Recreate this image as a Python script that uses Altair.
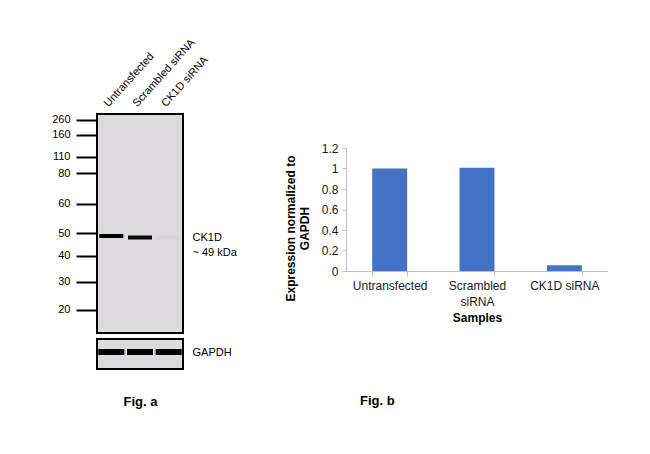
import altair as alt
import pandas as pd

# ---------------- Fig. a : western blot ----------------
lanes = ["Untransfected", "Scrambled siRNA", "CK1D siRNA"]
marker_kda = [260, 160, 110, 80, 60, 50, 40, 30, 20]
# migration distance of each marker from the top of the gel (relative units)
marker_migration = [5.5, 20.5, 42.5, 59, 89.5, 119, 141.5, 167.5, 195.5]
gel_length = 219
ck1d_migration = [122, 123.5, 123.5]
ck1d_intensity = [1.0, 0.95, 0.02]
ck1d_label_pos = [117]
ck1d_label = ["CK1D", "~ 49 kDa"]
gapdh_migration = [13, 13, 13]
gapdh_intensity = [1.0, 1.0, 1.0]
gapdh_length = 30
gapdh_label_pos = [13]

# ---------------- Fig. b : bar chart ----------------
samples = ["Untransfected", "Scrambled siRNA", "CK1D siRNA"]
expression = [1.0, 1.007, 0.055]
y_ticks = [0, 0.2, 0.4, 0.6, 0.8, 1.0, 1.2]

GEL = "#dcdadc"
FONT = "Liberation Sans"

marker_expr = "".join(
    f"datum.value == {m} ? '{k}' : " for m, k in zip(marker_migration, marker_kda)
) + "''"

ck1d_df = pd.DataFrame({"lane": lanes, "migration": ck1d_migration, "intensity": ck1d_intensity})
ck1d_lab_df = pd.DataFrame({"migration": ck1d_label_pos})
gapdh_df = pd.DataFrame({"lane": lanes, "migration": gapdh_migration, "intensity": gapdh_intensity})

lane_scale = alt.Scale(domain=lanes, paddingInner=0, paddingOuter=0)

x_top = alt.X(
    "lane:N", sort=lanes, scale=lane_scale,
    axis=alt.Axis(orient="top", title=None, ticks=False, domain=False,
                  labelAngle=-48, labelAlign="left", labelBaseline="middle",
                  labelPadding=9, labelOffset=-5, labelFontSize=11,
                  labelColor="black", labelFont=FONT),
)
y_main_scale = alt.Scale(domain=[0, gel_length], reverse=True, nice=False, zero=False)

bands = alt.Chart(ck1d_df).mark_tick(color="black", thickness=4, size=24).encode(
    x=x_top,
    y=alt.Y("migration:Q", scale=y_main_scale,
            axis=alt.Axis(orient="left", values=marker_migration, labelExpr=marker_expr,
                          title=None, domain=False, grid=False, tickSize=21, tickWidth=2,
                          tickColor="black", labelPadding=6, labelFontSize=11,
                          labelColor="black", labelFont=FONT)),
    opacity=alt.Opacity("intensity:Q", scale=None),
)

ck1d_text = "[" + ", ".join(f"'{t}'" for t in ck1d_label) + "]"
band_label = alt.Chart(ck1d_lab_df).mark_tick(opacity=0).encode(
    y=alt.Y("migration:Q", scale=y_main_scale,
            axis=alt.Axis(orient="right", values=ck1d_label_pos, labelExpr=ck1d_text,
                          title=None, domain=False, grid=False, ticks=False,
                          labelPadding=9, labelFontSize=11, labelAlign="left",
                          labelBaseline="top", labelColor="black", labelFont=FONT,
                          labelLineHeight=15)),
)

main_blot = alt.layer(bands, band_label).resolve_axis(y="independent").properties(
    width=86, height=219,
    view=alt.ViewBackground(fill=GEL, stroke="black", strokeWidth=2),
)

gapdh = alt.Chart(gapdh_df).mark_tick(color="black", thickness=6, size=26).encode(
    x=alt.X("lane:N", sort=lanes, scale=lane_scale,
            axis=alt.Axis(orient="bottom", labels=False, ticks=False, domain=False,
                          title="Fig. a", titleFontSize=13, titleFontWeight="bold",
                          titlePadding=26, titleColor="black", titleFont=FONT)),
    y=alt.Y("migration:Q",
            scale=alt.Scale(domain=[0, gapdh_length], reverse=True, nice=False, zero=False),
            axis=alt.Axis(orient="right", values=gapdh_label_pos, labelExpr="'GAPDH'",
                          title=None, domain=False, grid=False, ticks=False,
                          labelPadding=9, labelFontSize=11, labelAlign="left",
                          labelColor="black", labelFont=FONT)),
    opacity=alt.Opacity("intensity:Q", scale=None),
).properties(
    width=86, height=30,
    view=alt.ViewBackground(fill=GEL, stroke="black", strokeWidth=2),
)

left = alt.vconcat(main_blot, gapdh, spacing=4).resolve_scale(y="independent")

# ---------------- bar chart ----------------
bar_df = pd.DataFrame({"sample": samples, "expression": expression})

spacer = alt.Chart(pd.DataFrame({"v": [0]})).mark_point(opacity=0).properties(width=1, height=28)

bar = alt.Chart(bar_df).mark_bar(color="#4472C4").encode(
    x=alt.X("sample:N", sort=samples,
            scale=alt.Scale(paddingInner=0.6, paddingOuter=0.3),
            axis=alt.Axis(title="Samples", labelAngle=0,
                          labelExpr="indexof(datum.label, 'Scrambled') == 0 ? split(datum.label, ' ') : datum.label",
                          tickBand="extent", tickSize=5, tickColor="#bfbfbf",
                          domainColor="#bfbfbf", labelFontSize=12, labelColor="#1a1a1a",
                          labelPadding=4, labelLineHeight=16, titleFontSize=12,
                          titleFontWeight="bold", titlePadding=5, titleColor="black",
                          labelFont=FONT, titleFont=FONT)),
    y=alt.Y("expression:Q", scale=alt.Scale(domain=[0, 1.2], nice=False),
            axis=alt.Axis(values=y_ticks, format="~g", grid=False, tickSize=4,
                          tickColor="#bfbfbf", domainColor="#bfbfbf", labelFontSize=12,
                          labelColor="#1a1a1a", labelPadding=4,
                          title=["Expression  normalized to", "GAPDH"],
                          titleFontSize=12, titleFontWeight="bold", titlePadding=10,
                          titleY=80, titleColor="black", labelFont=FONT, titleFont=FONT,
                          titleLineHeight=14)),
).properties(
    width=262, height=123,
    title=alt.Title("Fig. b", orient="bottom", anchor="start", frame="group", dx=14,
                    offset=72, fontSize=13, fontWeight="bold", font=FONT, color="black"),
)

right = alt.vconcat(spacer, bar, spacing=0)

chart = alt.hconcat(left, right, spacing=46).resolve_scale(
    x="independent", y="independent"
).properties(
    padding={"left": 42, "top": 27, "right": 0, "bottom": 0}
).configure(font=FONT).configure_view(stroke=None)

chart.save("out.html", embed_options={"renderer": "svg", "actions": False})
